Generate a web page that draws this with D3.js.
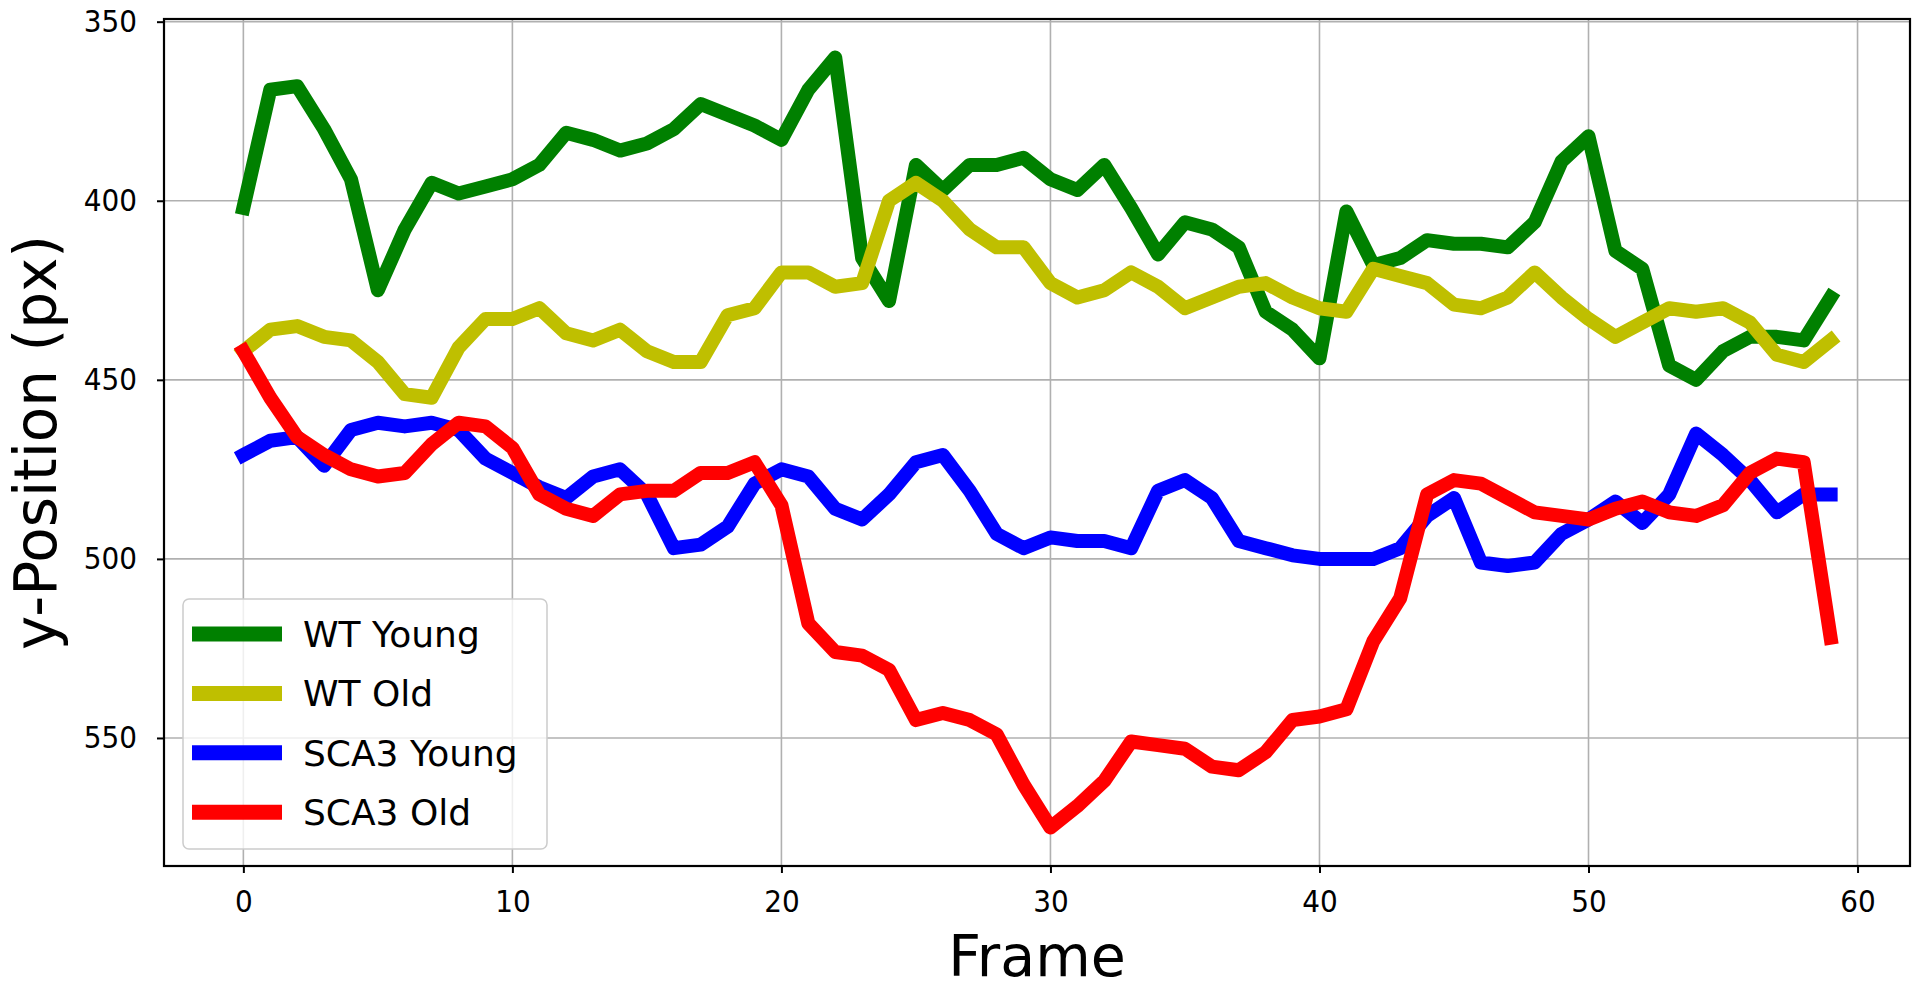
<!DOCTYPE html>
<html>
<head>
<meta charset="utf-8">
<script src="https://cdn.jsdelivr.net/npm/d3@7"></script>
<style>
  body { margin: 0; background: #fff; }
  svg { display: block; }
</style>
</head>
<body>
<div id="chart"></div>
<script>
// Data: y-position (px) per frame, 60 frames (0..59)
const seriesNames = ["WT Young", "WT Old", "SCA3 Young", "SCA3 Old"];
const seriesColors = ["#008000", "#bfbf00", "#0000ff", "#ff0000"];

const wtYoung = [402, 369, 368, 380, 394, 425, 408, 395, 398, 396, 394, 390, 381, 383, 386, 384, 380, 373, 376, 379,
                 383, 369, 360, 416, 428, 390, 397, 390, 390, 388, 394, 397, 390, 402, 415, 406, 408, 413, 431, 436,
                 444, 403, 418, 416, 411, 412, 412, 413, 406, 389, 382, 414, 419, 446, 450, 442, 438, 438, 439, 427];
const wtOld = [442, 436, 435, 438, 439, 445, 454, 455, 441, 433, 433, 430, 437, 439, 436, 442, 445, 445, 432, 430,
               420, 420, 424, 423, 400, 395, 400, 408, 413, 413, 423, 427, 425, 420, 424, 430, 427, 424, 423, 427,
               430, 431, 419, 421, 423, 429, 430, 427, 420, 427, 433, 438, 434, 430, 431, 430, 434, 443, 445, 439];
const scaYoung = [471, 467, 466, 474, 464, 462, 463, 462, 464, 472, 476, 480, 483, 477, 475, 482, 497, 496, 491, 479,
                  475, 477, 486, 489, 482, 473, 471, 481, 493, 497, 494, 495, 495, 497, 481, 478, 483, 495, 497, 499,
                  500, 500, 500, 497, 488, 483, 501, 502, 501, 493, 489, 484, 490, 482, 465, 471, 478, 487, 482, 482];
const scaOld = [442, 455, 466, 471, 475, 477, 476, 468, 462, 463, 469, 482, 486, 488, 482, 481, 481, 476, 476, 473,
                485, 518, 526, 527, 531, 545, 543, 545, 549, 563, 575, 569, 562, 551, 552, 553, 558, 559, 554, 545,
                544, 542, 523, 511, 482, 478, 479, 483, 487, 488, 489, 486, 484, 487, 488, 485, 476, 472, 473, 522];

const xTicks = [0, 10, 20, 30, 40, 50, 60];
const yTicks = [350, 400, 450, 500, 550];

const allSeries = [wtYoung, wtOld, scaYoung, scaOld];

// Plot box
const W = 1920, H = 991;
const margin = { top: 19, right: 10, bottom: 125, left: 164 };
const width = W - margin.left - margin.right,
      height = H - margin.top - margin.bottom;

const svg = d3.select("#chart").append("svg")
  .attr("width", W)
  .attr("height", H)
  .style("font-family", "'DejaVu Sans', sans-serif");

const g = svg.append("g").attr("transform", `translate(${margin.left},${margin.top})`);

// x: frame index with matplotlib-like 5% margins
const n = wtYoung.length;
const xPad = (n - 1) * 0.05;
const x = d3.scaleLinear().domain([-xPad, n - 1 + xPad]).range([0, width]);

// y: inverted (pixel coordinates), 5% margins
const yMin = d3.min(allSeries, s => d3.min(s));
const yMax = d3.max(allSeries, s => d3.max(s));
const yPad = (yMax - yMin) * 0.05;
const y = d3.scaleLinear().domain([yMin - yPad, yMax + yPad]).range([0, height]);

// Grid
g.append("g")
  .selectAll("line.vx")
  .data(xTicks)
  .join("line")
  .attr("x1", d => x(d)).attr("x2", d => x(d))
  .attr("y1", 0).attr("y2", height)
  .attr("stroke", "#b0b0b0").attr("stroke-width", 1.6);

g.append("g")
  .selectAll("line.hy")
  .data(yTicks)
  .join("line")
  .attr("x1", 0).attr("x2", width)
  .attr("y1", d => y(d)).attr("y2", d => y(d))
  .attr("stroke", "#b0b0b0").attr("stroke-width", 1.6);

// Lines
const line = d3.line()
  .x((d, i) => x(i))
  .y(d => y(d));

allSeries.forEach((s, k) => {
  g.append("path")
    .datum(s)
    .attr("fill", "none")
    .attr("stroke", seriesColors[k])
    .attr("stroke-width", 14)
    .attr("stroke-linejoin", "round")
    .attr("stroke-linecap", "square")
    .attr("d", line);
});

// Axes
const xAxis = g.append("g")
  .attr("transform", `translate(0,${height})`)
  .call(d3.axisBottom(x).tickValues(xTicks).tickSize(7).tickPadding(17).tickFormat(d3.format("d")));
const yAxis = g.append("g")
  .call(d3.axisLeft(y).tickValues(yTicks).tickSize(7).tickPadding(20).tickFormat(d3.format("d")));

[xAxis, yAxis].forEach(a => {
  a.select(".domain").remove();
  a.selectAll(".tick line").attr("stroke", "#000").attr("stroke-width", 2);
  a.selectAll(".tick text")
    .attr("fill", "#000")
    .style("font-family", "'DejaVu Sans', sans-serif")
    .style("font-stretch", "condensed")
    .style("font-size", "31px");
});

// Frame
g.append("rect")
  .attr("x", 0).attr("y", 0)
  .attr("width", width).attr("height", height)
  .attr("fill", "none")
  .attr("stroke", "#000")
  .attr("stroke-width", 2.2);

// Axis titles
svg.append("text")
  .attr("x", margin.left + width / 2)
  .attr("y", 976)
  .attr("text-anchor", "middle")
  .style("font-size", "57px")
  .text("Frame");

svg.append("text")
  .attr("transform", `translate(56,${margin.top + height / 2}) rotate(-90)`)
  .attr("text-anchor", "middle")
  .style("font-size", "58px")
  .text("y-Position (px)");

// Legend
const legend = svg.append("g").attr("transform", "translate(183,599)");
legend.append("rect")
  .attr("width", 364).attr("height", 250)
  .attr("rx", 6)
  .attr("fill", "#fff").attr("fill-opacity", 0.8)
  .attr("stroke", "#cccccc").attr("stroke-width", 1.5);

seriesNames.forEach((name, k) => {
  const row = legend.append("g").attr("transform", `translate(0,${35 + k * 59.4})`);
  row.append("line")
    .attr("x1", 9).attr("x2", 99)
    .attr("stroke", seriesColors[k])
    .attr("stroke-width", 15);
  row.append("text")
    .attr("x", 120)
    .attr("dy", "0.36em")
    .style("font-size", "36px")
    .text(name);
});
</script>
</body>
</html>
